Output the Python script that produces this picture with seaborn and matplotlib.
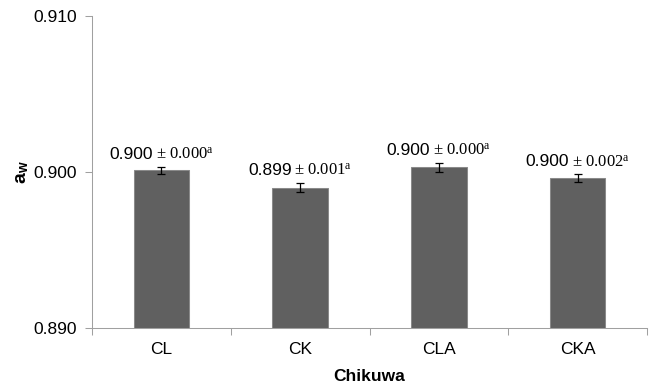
import matplotlib
matplotlib.use("Agg")
import matplotlib.pyplot as plt
import seaborn as sns
import pandas as pd
from matplotlib.offsetbox import TextArea, HPacker, AnnotationBbox
from matplotlib.ticker import FixedLocator, FormatStrFormatter

# Water activity of chikuwa samples
samples = ["CL", "CK", "CLA", "CKA"]
aw_mean = [0.9001, 0.8990, 0.9003, 0.8996]
aw_sd = [0.00024, 0.0003, 0.0003, 0.00026]
sd_text = ["0.000", "0.001", "0.000", "0.002"]
letters = ["a", "a", "a", "a"]
yticks = [0.890, 0.900, 0.910]

sns.set_theme(style="white")
plt.rcParams["font.family"] = ["Liberation Sans", "DejaVu Sans"]
plt.rcParams["mathtext.fontset"] = "custom"
plt.rcParams["mathtext.rm"] = "Liberation Serif"
plt.rcParams["mathtext.bf"] = "Liberation Sans:bold"
plt.rcParams["mathtext.it"] = "Liberation Serif:italic"

df = pd.DataFrame({"sample": samples, "aw": aw_mean})

fig = plt.figure(figsize=(6.52, 3.83), dpi=100)
ax = fig.add_axes([92 / 652, 55 / 383, 555 / 652, 312 / 383])

sns.barplot(data=df, x="sample", y="aw", order=samples, color="#606060",
            saturation=1, width=0.4, errorbar=None, ax=ax,
            edgecolor="#8a8a8a", linewidth=0.75)
ax.errorbar(range(len(samples)), aw_mean, yerr=aw_sd, fmt="none",
            ecolor="black", elinewidth=0.9, capsize=3.0, capthick=0.9, zorder=5)

ax.set_xlim(-0.5, len(samples) - 0.5)
ax.set_ylim(yticks[0], yticks[-1])
ax.set_yticks(yticks)
ax.yaxis.set_major_formatter(FormatStrFormatter("%.3f"))

# tick marks sit between categories, labels under each bar
ax.xaxis.set_minor_locator(FixedLocator([i - 0.5 for i in range(len(samples) + 1)]))
ax.tick_params(axis="x", which="major", length=0, pad=10, labelsize=12.5, labelcolor="black")
ax.tick_params(axis="x", which="minor", length=5, width=0.75, color="#a0a0a0", direction="out",
               bottom=True)
ax.tick_params(axis="y", which="major", length=5, width=0.75, color="#a0a0a0", direction="out",
               left=True, pad=6, labelsize=12.5, labelcolor="black")

for side in ["top", "right"]:
    ax.spines[side].set_visible(False)
for side in ["left", "bottom"]:
    ax.spines[side].set_color("#a0a0a0")
    ax.spines[side].set_linewidth(0.75)

ax.set_xlabel("Chikuwa", fontsize=12.5, fontweight="bold", color="black")
ax.xaxis.set_label_coords(0.5, -0.13)
ax.set_ylabel(r"$\mathbf{a}_{\mathbf{w}}$", fontsize=14, color="black")
ax.yaxis.set_label_coords(-0.11, 0.5)

# value labels: mean ± sd with significance letter
for i, (m, s) in enumerate(zip(aw_mean, aw_sd)):
    main = TextArea(f"{m:.3f}", textprops=dict(fontsize=12.5, color="black",
                                                 family="Liberation Sans"))
    rest = TextArea("\u00b1 " + sd_text[i] + r"$^{\mathrm{" + letters[i] + "}}$",
                    textprops=dict(fontsize=12, color="black", family="Liberation Serif"))
    box = HPacker(children=[main, rest], align="baseline", pad=0, sep=2)
    ab = AnnotationBbox(box, (i, m + s), xybox=(0, 4), xycoords="data",
                        boxcoords="offset pixels", box_alignment=(0.5, 0),
                        frameon=False, pad=0)
    ax.add_artist(ab)

fig.savefig("out.png", dpi=100)
